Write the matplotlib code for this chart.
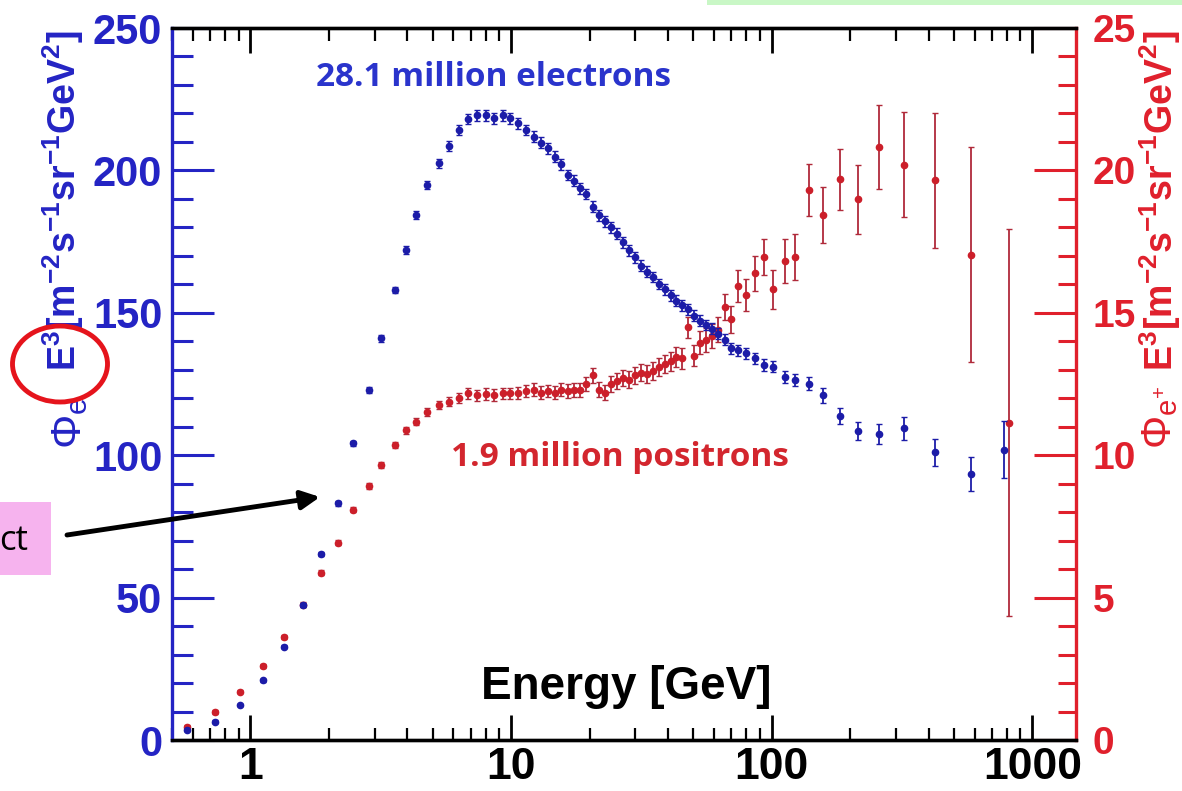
import matplotlib
matplotlib.use('Agg')
import matplotlib.pyplot as plt
from matplotlib.patches import Ellipse, Rectangle
from matplotlib.ticker import FixedLocator, FixedFormatter, LogLocator, NullFormatter, MultipleLocator

# ---------------- data ----------------
e_energy = [0.57, 0.73, 0.91, 1.12, 1.34, 1.59, 1.87, 2.17, 2.48, 2.84, 3.18, 3.57, 3.94, 4.33, 4.77,
            5.28, 5.78, 6.31, 6.84, 7.40, 7.99, 8.63, 9.32, 9.94, 10.6, 11.4, 12.2, 13.0, 13.8, 14.7,
            15.6, 16.5, 17.4, 18.4, 19.4, 20.6, 21.7, 22.9, 24.1, 25.4, 26.8, 28.3, 29.8, 31.4, 33.1,
            34.9, 36.8, 38.8, 40.9, 43.1, 45.4, 47.9, 50.5, 53.2, 56.1, 59.2, 62.4, 65.9, 69.7, 74.0,
            79.9, 86.5, 93.7, 101, 112, 123, 139, 157, 182, 214, 259, 323, 423, 583, 780]
e_flux = [3.5, 6.4, 12.3, 21.0, 32.8, 47.4, 65.3, 83.1, 104.2, 122.9, 141.0, 158.0, 172.0, 184.3, 194.9,
          202.5, 208.6, 214.2, 218.0, 219.4, 219.4, 218.3, 219.4, 218.3, 216.5, 214.2, 211.8, 209.7, 207.8, 204.8,
          202.2, 198.4, 196.4, 193.7, 191.7, 187.3, 184.3, 182.2, 180.0, 177.8, 174.7, 172.0, 169.5, 166.5, 164.4,
          162.6, 160.1, 158.3, 156.2, 154.3, 152.6, 151.2, 149.0, 147.2, 145.7, 144.4, 142.6, 140.5, 137.5, 136.9,
          135.8, 134.0, 131.7, 131.1, 127.6, 126.4, 125.1, 121.0, 113.8, 108.5, 107.5, 109.4, 101.0, 93.4, 102.0]
e_err = [0.5, 0.5, 0.5, 0.5, 0.6, 0.6, 0.7, 0.8, 0.9, 1.0, 1.1, 1.2, 1.3, 1.4, 1.5,
         1.6, 1.7, 1.8, 1.8, 1.9, 1.9, 1.9, 1.9, 1.9, 1.9, 1.9, 1.9, 1.9, 1.9, 1.9,
         1.9, 1.9, 1.9, 1.9, 1.9, 1.9, 1.9, 1.9, 1.9, 1.9, 1.9, 1.9, 1.9, 1.9, 1.9,
         1.9, 1.9, 1.9, 1.9, 1.9, 1.9, 1.9, 1.9, 1.9, 1.9, 1.9, 1.9, 1.9, 1.9, 1.9,
         1.9, 2.0, 2.0, 2.0, 2.1, 2.2, 2.3, 2.7, 2.8, 3.1, 3.5, 4.0, 4.7, 6.0, 10.0]

p_energy = [0.57, 0.73, 0.91, 1.12, 1.34, 1.59, 1.87, 2.17, 2.48, 2.84, 3.18, 3.57, 3.94, 4.33, 4.77,
            5.28, 5.78, 6.31, 6.84, 7.40, 7.99, 8.63, 9.32, 9.94, 10.6, 11.4, 12.2, 13.0, 13.8, 14.7,
            15.6, 16.5, 17.4, 18.4, 19.4, 20.6, 21.7, 22.9, 24.1, 25.4, 26.8, 28.3, 29.8, 31.4, 33.1,
            34.9, 36.8, 38.8, 40.9, 43.1, 45.4, 47.9, 50.5, 53.2, 56.1, 59.2, 62.4, 65.9, 69.7, 74.0,
            79.9, 86.5, 93.7, 101, 112, 123, 139, 157, 182, 214, 259, 323, 423, 583, 813]
p_flux = [0.47, 0.99, 1.70, 2.60, 3.63, 4.75, 5.88, 6.93, 8.08, 8.92, 9.66, 10.36, 10.88, 11.18, 11.53,
          11.76, 11.88, 12.00, 12.17, 12.11, 12.15, 12.11, 12.17, 12.17, 12.20, 12.25, 12.30, 12.20, 12.25, 12.20,
          12.30, 12.25, 12.30, 12.30, 12.50, 12.80, 12.30, 12.20, 12.50, 12.60, 12.70, 12.65, 12.80, 12.90, 12.85,
          12.95, 13.10, 13.20, 13.30, 13.45, 13.40, 14.50, 13.50, 13.95, 14.05, 14.20, 14.40, 15.21, 14.77, 15.94,
          15.63, 16.39, 16.97, 15.82, 16.83, 16.97, 19.31, 18.43, 19.69, 18.98, 20.83, 20.20, 19.65, 17.04, 11.14]
p_err = [0.06, 0.06, 0.06, 0.07, 0.07, 0.08, 0.08, 0.09, 0.09, 0.10, 0.10, 0.11, 0.12, 0.13, 0.14,
         0.15, 0.16, 0.17, 0.18, 0.19, 0.20, 0.20, 0.20, 0.20, 0.21, 0.21, 0.22, 0.22, 0.22, 0.23,
         0.23, 0.24, 0.24, 0.25, 0.25, 0.26, 0.26, 0.27, 0.27, 0.28, 0.28, 0.29, 0.29, 0.30, 0.30,
         0.31, 0.32, 0.33, 0.34, 0.35, 0.36, 0.37, 0.38, 0.40, 0.41, 0.42, 0.44, 0.46, 0.47, 0.55,
         0.56, 0.61, 0.63, 0.70, 0.77, 0.81, 0.92, 0.97, 1.07, 1.21, 1.47, 1.84, 2.37, 3.78, 6.80]

x_ticks = [1, 10, 100, 1000]
x_ticklabels = ['1', '10', '100', '1000']
left_ticks = [0, 50, 100, 150, 200, 250]
right_ticks = [0, 5, 10, 15, 20, 25]

# ---------------- style ----------------
plt.rcParams['font.family'] = ['Liberation Sans', 'DejaVu Sans']
plt.rcParams['font.weight'] = 'bold'
plt.rcParams['mathtext.fontset'] = 'custom'
plt.rcParams['mathtext.rm'] = 'Liberation Sans:bold'
plt.rcParams['mathtext.it'] = 'Liberation Sans:bold'
plt.rcParams['mathtext.bf'] = 'Liberation Sans:bold'
plt.rcParams['mathtext.sf'] = 'Liberation Sans:normal'

BLUE = '#2424c4'
BLUE_PT = '#1c1ca8'
RED = '#e0202c'
RED_PT = '#cc1f2a'
RED_ERR = '#b02a3a'

W, H = 1182, 791
fig = plt.figure(figsize=(W / 100, H / 100), dpi=100)
fig.patch.set_facecolor('white')


def fx(px):
    return px / W


def fy(py):
    return 1 - py / H


L, R, T, B = 172, 1076, 28, 740
ax = fig.add_axes([fx(L), fy(B), fx(R) - fx(L), fy(T) - fy(B)])
ax2 = ax.twinx()
ax.set_zorder(ax2.get_zorder() + 1)
ax.patch.set_visible(False)
ax2.patch.set_facecolor('white')

# positrons (right axis)
ax2.errorbar(p_energy, p_flux, yerr=p_err, fmt='o', ms=4.5, mfc=RED_PT, mec=RED_PT,
             ecolor=RED_ERR, elinewidth=1.3, capsize=2.5, capthick=1.0)
# electrons (left axis)
ax.errorbar(e_energy, e_flux, yerr=e_err, fmt='o', ms=4.5, mfc=BLUE_PT, mec=BLUE_PT,
            ecolor=BLUE_PT, elinewidth=1.3, capsize=2.5, capthick=1.0)

ax.set_xscale('log')
ax.set_xlim(0.5, 1470)
ax.set_ylim(0, 250)
ax2.set_ylim(0, 25)

ax.xaxis.set_major_locator(FixedLocator(x_ticks))
ax.xaxis.set_major_formatter(FixedFormatter(x_ticklabels))
ax.xaxis.set_minor_locator(LogLocator(base=10, subs=range(2, 10)))
ax.xaxis.set_minor_formatter(NullFormatter())
ax.set_yticks(left_ticks)
ax.yaxis.set_minor_locator(MultipleLocator(10))
ax2.set_yticks(right_ticks)
ax2.yaxis.set_minor_locator(MultipleLocator(1))

ax.tick_params(axis='x', which='major', direction='in', length=18, width=2, top=True,
               labelsize=32, pad=5, colors='black')
ax.tick_params(axis='x', which='minor', direction='in', length=9, width=1.6, top=True)
ax.tick_params(axis='y', which='major', direction='in', length=30, width=2.2, colors=BLUE,
               labelsize=30, pad=7, right=False)
ax.tick_params(axis='y', which='minor', direction='in', length=15, width=2.2, colors=BLUE, right=False)
ax2.tick_params(axis='y', which='major', direction='in', length=30, width=2.2, colors=RED,
                labelsize=28, pad=12)
ax2.tick_params(axis='y', which='minor', direction='in', length=13, width=2.2, colors=RED)

for a in (ax, ax2):
    a.spines['top'].set_color('black')
    a.spines['bottom'].set_color('black')
    for s in a.spines.values():
        s.set_linewidth(2.4)
ax.spines['left'].set_color(BLUE)
ax.spines['right'].set_visible(False)
ax2.spines['left'].set_visible(False)
ax2.spines['right'].set_color(RED)

# axis titles
ylab = r'E$^{3}$[m$^{-2}$s$^{-1}$sr$^{-1}$GeV$^{2}$]'
fig.text(fx(626), fy(687), 'Energy [GeV]', fontsize=33, fontweight='bold', color='black',
         ha='center', va='center')
fig.text(fx(63), fy(201), ylab, fontsize=27, color=BLUE, fontweight='bold',
         rotation=90, ha='center', va='center')
fig.text(fx(70), fy(449), r'$\mathsf{\Phi_{e}}$', fontsize=31, color=BLUE, rotation=90,
         ha='center', va='bottom')
fig.text(fx(1160), fy(201), ylab, fontsize=27, color=RED, fontweight='bold',
         rotation=90, ha='center', va='center')
fig.text(fx(1160), fy(449), r'$\mathsf{\Phi_{e^{+}}}$', fontsize=30, color=RED, rotation=90,
         ha='center', va='bottom')

# annotations inside the plot
fig.text(fx(493), fy(78), '28.1 million electrons', fontsize=24, fontweight='bold',
         family=['Open Sans', 'DejaVu Sans'], color='#2a34cc', ha='center', va='center')
fig.text(fx(620), fy(457), '1.9 million positrons', fontsize=24, fontweight='bold',
         family=['Open Sans', 'DejaVu Sans'], color='#d3262e', ha='center', va='center')

# slide overlays
fig.add_artist(Rectangle((fx(707), fy(5)), fx(W) - fx(707), 5 / H, transform=fig.transFigure,
                         facecolor='#c9f7c6', edgecolor='none', zorder=5))
fig.add_artist(Rectangle((0, fy(575)), fx(51), 73 / H, transform=fig.transFigure,
                         facecolor='#f6b3ee', edgecolor='none', zorder=5))
fig.text(fx(28), fy(541), 'ct', fontsize=25, fontweight='normal', family=['Open Sans', 'DejaVu Sans'],
         color='black', ha='right', va='center', zorder=6)
fig.add_artist(Ellipse((fx(60), fy(364)), fx(95), 76 / H, transform=fig.transFigure,
                       fill=False, edgecolor='#e5141c', linewidth=3.5, zorder=7))
ax.annotate('', xy=(320, H - 497), xytext=(67, H - 535), xycoords='figure pixels',
            textcoords='figure pixels',
            arrowprops=dict(arrowstyle='-|>', lw=3.5, color='black', mutation_scale=28,
                            shrinkA=0, shrinkB=0), annotation_clip=False, zorder=8)

fig.savefig('out.png', dpi=100, facecolor='white')
